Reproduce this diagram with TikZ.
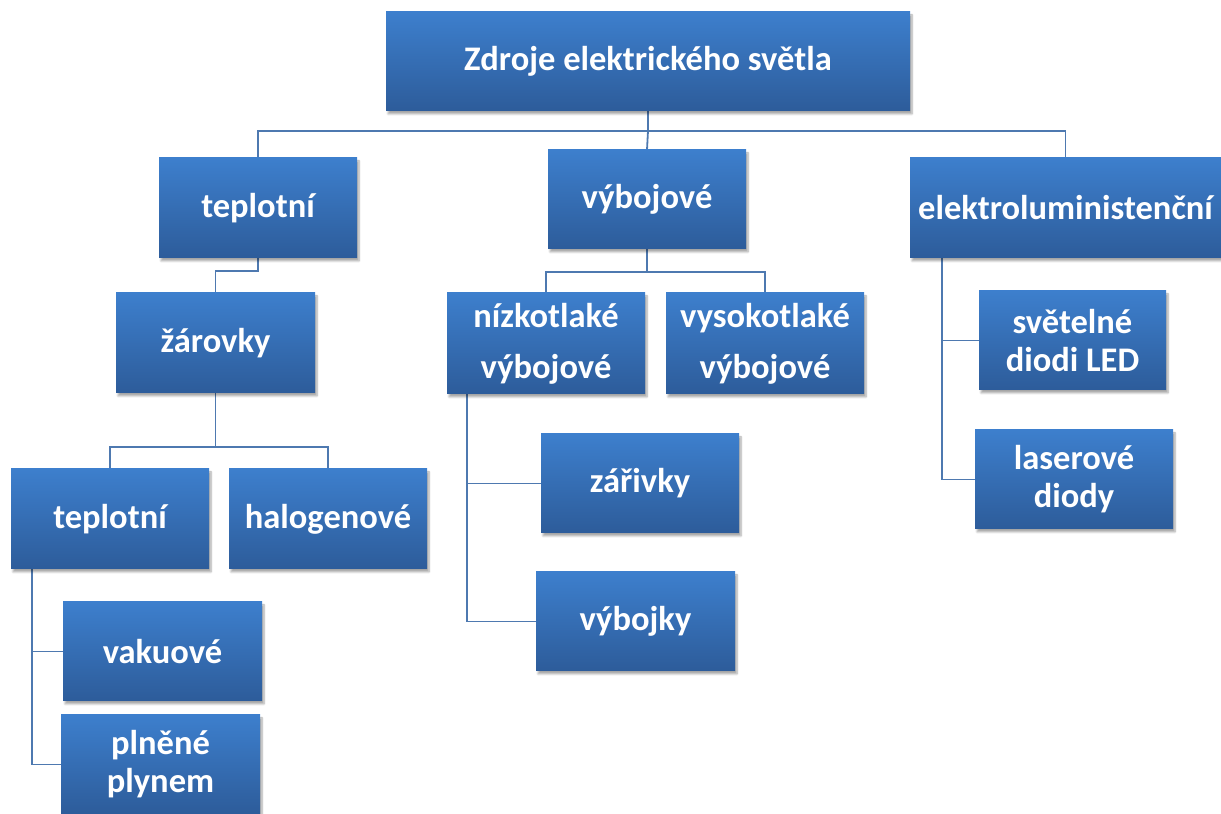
\documentclass[tikz,border=0pt]{standalone}
\usepackage{fontspec}
\setmainfont{Carlito}
\usetikzlibrary{shadows.blur,backgrounds}
\definecolor{boxtop}{HTML}{3D7FCD}
\definecolor{boxbot}{HTML}{2D5C9A}
\definecolor{linec}{HTML}{4E79B0}
\tikzset{
  box/.style={rectangle, top color=boxtop, bottom color=boxbot, draw=none,
    text=white, font=\fontsize{34.5}{38}\selectfont\bfseries, align=center,
    inner sep=0pt,
    blur shadow={shadow xshift=2pt, shadow yshift=-3pt, shadow blur steps=6, shadow opacity=35}},
  widebox/.style={box, font=\fontsize{34.5}{51}\selectfont\bfseries},
  conn/.style={draw=linec, line width=1.8pt}
}
\begin{document}
\begin{tikzpicture}[x=1pt,y=1pt]
\useasboundingbox (0,0) rectangle (1221,814);
\node[box, minimum width=524pt, minimum height=99pt] (root) at (648,752.5) {Zdroje elektrického světla};
\node[box, minimum width=198pt, minimum height=100pt] (t1) at (258,606) {teplotní};
\node[box, minimum width=198pt, minimum height=99pt] (vyb) at (647,614.5) {výbojové};
\node[box, minimum width=311pt, minimum height=100pt] (el) at (1065.5,606) {elektroluministenční};
\node[box, minimum width=199pt, minimum height=100pt] (zar) at (215.5,471) {žárovky};
\node[widebox, minimum width=198pt, minimum height=101pt] (niz) at (546,470.5) {nízkotlaké\\výbojové};
\node[widebox, minimum width=198pt, minimum height=101pt] (vys) at (765,470.5) {vysokotlaké\\výbojové};
\node[box, minimum width=187pt, minimum height=99pt] (led) at (1072.5,473.5) {světelné\\diodi LED};
\node[box, minimum width=198pt, minimum height=99pt] (las) at (1074,334.5) {laserové\\diody};
\node[box, minimum width=198pt, minimum height=99pt] (zariv) at (640,330.5) {zářivky};
\node[box, minimum width=199pt, minimum height=99pt] (vybojky) at (635.5,192.5) {výbojky};
\node[box, minimum width=198pt, minimum height=100pt] (t2) at (110,295) {teplotní};
\node[box, minimum width=198pt, minimum height=100pt] (hal) at (328,295) {halogenové};
\node[box, minimum width=199pt, minimum height=99pt] (vak) at (162.5,162.5) {vakuové};
\node[box, minimum width=199pt, minimum height=99pt] (pln) at (160.5,49.5) {plněné\\plynem};
\begin{scope}[on background layer]
\draw[conn] (root.south) -- (root.south |- 0,683) -| (t1.north);
\draw[conn] (root.south) -- (root.south |- 0,683) -| (el.north);
\draw[conn] (root.south |- 0,683) -- (vyb.north);
\draw[conn] (t1.south) -- (t1.south |- 0,543) -| (zar.north);
\draw[conn] (zar.south) -- (zar.south |- 0,367) -| (t2.north);
\draw[conn] (zar.south |- 0,367) -| (hal.north);
\draw[conn] (vyb.south) -- (vyb.south |- 0,542) -| (niz.north);
\draw[conn] (vyb.south |- 0,542) -| (vys.north);
\draw[conn] (t2.south -| 32,0) |- (vak.west);
\draw[conn] (t2.south -| 32,0) |- (pln.west);
\draw[conn] (niz.south -| 467,0) |- (zariv.west);
\draw[conn] (niz.south -| 467,0) |- (vybojky.west);
\draw[conn] (el.south -| 942,0) |- (led.west);
\draw[conn] (el.south -| 942,0) |- (las.west);
\end{scope}
\end{tikzpicture}
\end{document}
